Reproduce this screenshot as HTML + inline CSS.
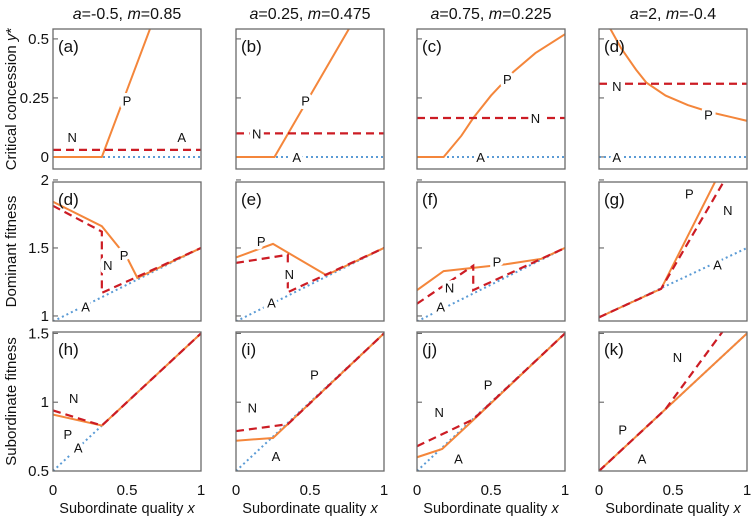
<!DOCTYPE html>
<html><head><meta charset="utf-8">
<style>
html,body{margin:0;padding:0;background:#fff;}
svg{display:block;font-family:"Liberation Sans","DejaVu Sans",sans-serif;}
</style></head>
<body>
<svg id="chart" width="751" height="518" viewBox="0 0 751 518" xmlns="http://www.w3.org/2000/svg"></svg>
<script>
// ---------- data ----------
const colTitlesA = ["-0.5","0.25","0.75","2"];
const colTitlesM = ["0.85","0.475","0.225","-0.4"];
const panelLetters = ["(a)","(b)","(c)","(d)","(d)","(e)","(f)","(g)","(h)","(i)","(j)","(k)"];
const rowTitles = ["Critical concession y*","Dominant fitness","Subordinate fitness"];
const row1Ticks = [0,0.25,0.5];
const row1TickLabels = ["0","0.25","0.5"];
const row2Ticks = [1,1.5,2];
const row2TickLabels = ["1","1.5","2"];
const row3Ticks = [0.5,1,1.5];
const row3TickLabels = ["0.5","1","1.5"];
const xTicks = [0,0.5,1];
const xTickLabels = ["0","0.5","1"];

// Row 1: critical concession
const aA = [[0,0],[1,0]];
const aN = [[0,0.03],[1,0.03]];
const aP = [[0,0],[0.33,0],[0.66,0.55]];
const bA = [[0,0],[1,0]];
const bN = [[0,0.1],[1,0.1]];
const bP = [[0,0],[0.26,0],[0.77,0.55]];
const cA = [[0,0],[1,0]];
const cN = [[0,0.165],[1,0.165]];
const cP = [[0,0],[0.18,0],[0.3,0.09],[0.38,0.165],[0.5,0.26],[0.65,0.36],[0.8,0.44],[1,0.52]];
const dA = [[0,0],[1,0]];
const dN = [[0,0.31],[1,0.31]];
const dP = [[0.07,0.55],[0.15,0.46],[0.25,0.37],[0.32,0.315],[0.45,0.26],[0.6,0.22],[0.75,0.19],[0.9,0.168],[1,0.153]];
// Row 2: dominant fitness
const eA = [[0,0.96],[1,1.5]];
const eN = [[0,1.81],[0.33,1.62],[0.33,1.17],[1,1.5]];
const eP = [[0,1.84],[0.33,1.66],[0.5,1.43],[0.57,1.28],[1,1.5]];
const fA = [[0,0.96],[1,1.5]];
const fN = [[0,1.39],[0.35,1.45],[0.35,1.175],[1,1.5]];
const fP = [[0,1.43],[0.25,1.53],[0.61,1.3],[1,1.5]];
const gA = [[0,0.96],[1,1.5]];
const gN = [[0,1.09],[0.38,1.37],[0.38,1.19],[1,1.5]];
const gP = [[0,1.19],[0.18,1.33],[0.6,1.38],[0.84,1.42],[1,1.5]];
const hA = [[0,0.99],[1,1.5]];
const hN = [[0,0.99],[0.42,1.2],[0.86,2.02]];
const hP = [[0,0.99],[0.42,1.2],[0.8,2.02]];
// Row 3: subordinate fitness
const iA = [[0,0.5],[1,1.5]];
const iN = [[0,0.94],[0.33,0.83],[1,1.5]];
const iP = [[0,0.91],[0.33,0.83],[1,1.5]];
const jA = [[0,0.5],[1,1.5]];
const jN = [[0,0.79],[0.35,0.84],[1,1.5]];
const jP = [[0,0.72],[0.25,0.74],[1,1.5]];
const kA = [[0,0.5],[1,1.5]];
const kN = [[0,0.68],[0.38,0.875],[1,1.5]];
const kP = [[0,0.6],[0.17,0.66],[0.35,0.84],[1,1.5]];
const lA = [[0,0.5],[1,1.5]];
const lN = [[0,0.5],[0.45,0.95],[0.84,1.52]];
const lP = [[0,0.5],[1,1.5]];

const seriesA = [aA,bA,cA,dA,eA,fA,gA,hA,iA,jA,kA,lA];
const seriesN = [aN,bN,cN,dN,eN,fN,gN,hN,iN,jN,kN,lN];
const seriesP = [aP,bP,cP,dP,eP,fP,gP,hP,iP,jP,kP,lP];

// in-panel labels [x, y]
const labelsN = [[0.13,0.085],[0.14,0.1],[0.8,0.165],[0.12,0.3],[0.37,1.375],[0.36,1.31],[0.22,1.21],[0.87,1.78],[0.14,1.03],[0.11,0.96],[0.15,0.93],[0.53,1.33]];
const labelsP = [[0.5,0.24],[0.47,0.24],[0.61,0.33],[0.74,0.18],[0.48,1.45],[0.17,1.55],[0.54,1.4],[0.61,1.9],[0.1,0.77],[0.53,1.2],[0.48,1.13],[0.16,0.8]];
const labelsA = [[0.87,0.085],[0.41,0],[0.43,0],[0.12,0],[0.22,1.07],[0.24,1.1],[0.16,1.07],[0.8,1.38],[0.17,0.67],[0.27,0.61],[0.28,0.59],[0.29,0.59]];

// ---------- layout ----------
const svg = document.getElementById('chart');
const NS = 'http://www.w3.org/2000/svg';
const colX = [53,236,417,599];
const PW = 148;
const rowY = [29,182,332];
const PH = [140,139,139];
const rowDomain = [[-0.051,0.542],[0.963,1.985],[0.5,1.51]];
const rowTicks = [row1Ticks,row2Ticks,row3Ticks];
const rowTickLabels = [row1TickLabels,row2TickLabels,row3TickLabels];
const C_P = '#f4863b', C_N = '#cc1c24', C_A = '#5b9bd5';

function mk(tag, attrs, parent){
  const e = document.createElementNS(NS, tag);
  for (const k in attrs) e.setAttribute(k, attrs[k]);
  (parent||svg).appendChild(e);
  return e;
}

const defs = mk('defs', {});

for (let c = 0; c < 4; c++) {
  const t = mk('text', {x: colX[c] + PW/2, y: 19, 'text-anchor':'middle', 'font-size':'16', fill:'#111'});
  
  
  t.innerHTML = '<tspan font-style="italic">a</tspan>=' + colTitlesA[c] + ', <tspan font-style="italic">m</tspan>=' + colTitlesM[c];
}

for (let r = 0; r < 3; r++) {
  const cy = rowY[r] + PH[r]/2;
  const t = mk('text', {x: 0, y: 0, transform: `translate(16,${cy}) rotate(-90)`, 'text-anchor':'middle', 'font-size':'15', fill:'#111'});
  
  
  if (r === 0) t.innerHTML = 'Critical concession <tspan font-style="italic">y</tspan>*';
  else t.textContent = rowTitles[r];
}

for (let r = 0; r < 3; r++) {
  for (let c = 0; c < 4; c++) {
    const idx = r*4 + c;
    const x0 = colX[c], y0 = rowY[r], h = PH[r];
    const dom = rowDomain[r];
    const sx = v => x0 + v * PW;
    const sy = v => y0 + h - (v - dom[0]) / (dom[1] - dom[0]) * h;

    const g = mk('g', {});
    
    

    const cp = mk('clipPath', {id: 'clip' + idx}, defs);
    mk('rect', {x: x0, y: y0, width: PW, height: h}, cp);

    rowTicks[r].forEach((tv, i) => {
      const ty = sy(tv);
      const tk = mk('line', {x1: x0, x2: x0 + 5, y1: ty, y2: ty, stroke: '#555', 'stroke-width': 1}, g);
      
      
      if (c === 0) {
        const tl = mk('text', {x: x0 - 4, y: ty + 5, 'text-anchor': 'end', 'font-size': '15', fill: '#111'}, g);
        
        
        tl.textContent = rowTickLabels[r][i];
      }
    });
    if (r === 2) {
      xTicks.forEach((xv, i) => {
        const tl = mk('text', {x: sx(xv), y: 495, 'text-anchor': 'middle', 'font-size': '15', fill: '#111'}, g);
        
        
        tl.textContent = xTickLabels[i];
      });
      const xt = mk('text', {x: x0 + PW/2, y: 513, 'text-anchor': 'middle', 'font-size': '14.5', fill: '#111'}, g);
      
      
      xt.innerHTML = 'Subordinate quality <tspan font-style="italic">x</tspan>';
    }

    const lines = mk('g', {'clip-path': `url(#clip${idx})`}, g);
    const pathOf = pts => pts.map((p, i) => (i ? 'L' : 'M') + sx(p[0]).toFixed(2) + ',' + sy(p[1]).toFixed(2)).join(' ');

    const la = mk('path', {d: pathOf(seriesA[idx]), fill: 'none', stroke: C_A, 'stroke-width': 2, 'stroke-dasharray': '2,3'}, lines);
    
    
    const lp = mk('path', {d: pathOf(seriesP[idx]), fill: 'none', stroke: C_P, 'stroke-width': 2}, lines);
    
    
    const ln = mk('path', {d: pathOf(seriesN[idx]), fill: 'none', stroke: C_N, 'stroke-width': 2.2, 'stroke-dasharray': '8,5'}, lines);
    
    

    [['N', labelsN[idx]], ['P', labelsP[idx]], ['A', labelsA[idx]]].forEach(([s, p]) => {
      const t = mk('text', {x: sx(p[0]), y: sy(p[1]) + 5, 'text-anchor': 'middle', 'font-size': '13', fill: '#111',
        stroke: '#fff', 'stroke-width': 7, 'paint-order': 'stroke', 'stroke-linejoin': 'round'}, g);
      
      
      t.textContent = s;
    });

    const pl = mk('text', {x: x0 + 5, y: y0 + 23, 'font-size': '17', fill: '#111'}, g);
    
    
    pl.textContent = panelLetters[idx];

    const fr = mk('rect', {x: x0, y: y0, width: PW, height: h, fill: 'none', stroke: '#6a6a6a', 'stroke-width': 1.3}, g);
    
    
  }
}
</script>
</body></html>
